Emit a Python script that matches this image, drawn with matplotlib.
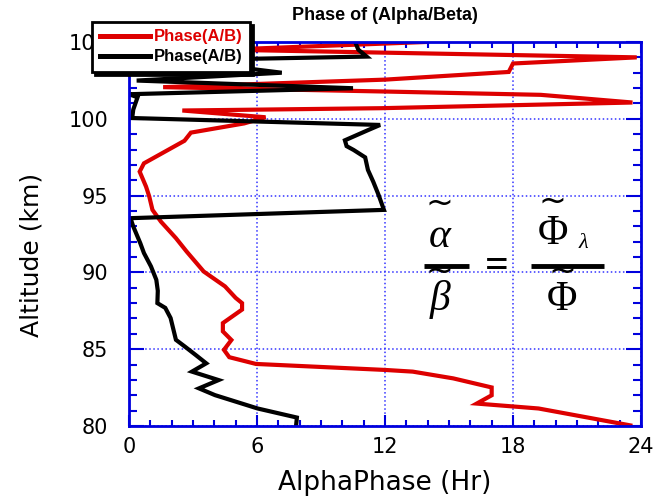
import matplotlib
matplotlib.use("Agg")
import matplotlib.pyplot as plt
from matplotlib.ticker import MultipleLocator

# red trace: Phase(A/B), hours vs altitude (km)
red_phase = [13.9, 4.5, 23.8, 18.0, 17.8, 12.0, 1.6, 12.2, 19.3, 23.6, 11.8, 2.5,
             6.4, 5.4, 2.9, 2.6, 0.7, 0.5, 0.8, 0.95, 1.1, 1.5, 2.2, 2.7, 3.5, 4.5,
             5.0, 5.3, 5.3, 4.4, 4.4, 4.8, 4.45, 4.7, 5.95, 12.0, 13.3, 15.2, 17.0,
             17.0, 16.3, 19.2, 23.5]
red_alt = [105.0, 104.5, 104.0, 103.6, 103.05, 102.55, 102.06, 101.77, 101.56, 101.06,
           100.69, 100.54, 100.1, 99.7, 99.1, 98.57, 97.1, 96.56, 95.58, 94.94, 94.07,
           93.3, 92.23, 91.36, 90.06, 89.09, 88.34, 88.0, 87.58, 86.7, 86.16, 85.6,
           84.96, 84.48, 84.04, 83.65, 83.54, 83.1, 82.51, 82.0, 81.46, 81.14, 80.04]

# black trace: Phase(A/B)
black_phase = [10.6, 10.75, 11.14, 2.4, 7.16, 0.36, 10.5, 0.0, 0.4, 0.2, 0.15, 11.77,
               11.2, 10.12, 10.2, 10.53, 11.07, 11.2, 11.45, 11.7, 11.95, 0.07, 0.2,
               0.53, 0.7, 1.03, 1.28, 1.35, 1.33, 1.7, 1.95, 2.2, 2.62, 3.12, 3.62,
               2.95, 4.2, 3.28, 4.03, 6.03, 7.87, 7.83]
black_alt = [105.0, 104.5, 104.05, 103.82, 103.0, 102.49, 101.99, 101.6, 101.4, 100.6,
             100.05, 99.6, 99.26, 98.6, 98.22, 97.97, 97.49, 96.67, 95.9, 95.04, 94.07,
             93.53, 92.99, 91.9, 91.26, 90.39, 89.52, 88.8, 88.0, 87.69, 87.03, 85.61,
             85.17, 84.63, 84.08, 83.54, 82.99, 82.45, 82.01, 81.14, 80.55, 80.0]

x_ticks = [0, 6, 12, 18, 24]
y_ticks = [80, 85, 90, 95, 100, 105]

blue = '#0000dd'
W, H = 658, 499

fig = plt.figure(figsize=(W / 100, H / 100), dpi=100)
ax = fig.add_axes([129 / W, 73 / H, 512 / W, 384 / H])

ax.plot(red_phase, red_alt, color='#dd0000', lw=3, label='Phase(A/B)', solid_joinstyle='miter')
ax.plot(black_phase, black_alt, color='black', lw=3, label='Phase(A/B)', solid_joinstyle='miter')

ax.set_xlim(0, 24)
ax.set_ylim(80, 105)
ax.set_xticks(x_ticks)
ax.set_yticks(y_ticks)
ax.xaxis.set_minor_locator(MultipleLocator(1))
ax.yaxis.set_minor_locator(MultipleLocator(1))
ax.tick_params(axis='x', which='major', direction='in', length=8, width=1.5, color=blue,
               top=True, bottom=True, labelsize=15, pad=8)
ax.tick_params(axis='x', which='minor', direction='in', length=4.5, width=1.5, color=blue,
               top=True, bottom=True)
ax.tick_params(axis='y', which='major', direction='in', length=11, width=1.5, color=blue,
               left=True, right=True, labelsize=15, pad=15)
ax.tick_params(axis='y', which='minor', direction='in', length=6, width=1.5, color=blue,
               left=True, right=True)
for sp in ax.spines.values():
    sp.set_color(blue)
    sp.set_linewidth(2)
ax.grid(True, which='major', color='#3333ff', linestyle=':', linewidth=1.1)

fig.text(385 / W, 1 - 16 / H, 'Phase of (Alpha/Beta)', ha='center', va='center',
         fontsize=13, fontweight='bold', family='Liberation Sans')
fig.text(385 / W, 1 - 483 / H, 'AlphaPhase (Hr)', ha='center', va='center', fontsize=19)
fig.text(32 / W, 1 - 255 / H, 'Altitude (km)', ha='center', va='center', fontsize=18,
         rotation=90)

leg = ax.legend(loc='upper left', bbox_to_anchor=(92 / W, 1 - 22 / H),
                bbox_transform=fig.transFigure, borderaxespad=0, fancybox=False,
                shadow={'color': 'black', 'alpha': 1}, labelcolor='linecolor',
                prop={'family': 'Liberation Sans', 'weight': 'bold', 'size': 12},
                handlelength=3.0, handletextpad=0.25, borderpad=0.45, labelspacing=0.3,
                framealpha=1)
leg.get_frame().set_edgecolor('black')
leg.get_frame().set_linewidth(2)
for hl in leg.get_lines():
    hl.set_linewidth(3.6)

# formula  alpha~/beta~ = Phi~_lambda/Phi~
serif = ['Liberation Serif', 'DejaVu Serif']
tilde = dict(transform=ax.transAxes, fontsize=24, family='DejaVu Sans', ha='center', va='center')
glyph = dict(transform=ax.transAxes, fontsize=30, family=serif, ha='center', va='center')
ax.text(0.607, 0.580, '~', **tilde)
ax.text(0.607, 0.492, 'α', style='italic', **glyph)
ax.text(0.607, 0.404, '~', **tilde)
ax.text(0.607, 0.330, 'β', style='italic', **glyph)
ax.text(0.719, 0.414, '=', fontweight='bold', **glyph)
ax.text(0.828, 0.585, '~', **tilde)
ax.text(0.828, 0.500, 'Φ', **glyph)
ax.text(0.888, 0.475, 'λ', transform=ax.transAxes, fontsize=16, family=serif, style='italic',
        ha='center', va='center')
ax.text(0.846, 0.404, '~', **tilde)
ax.text(0.846, 0.330, 'Φ', **glyph)
ax.plot([0.576, 0.664], [0.417, 0.417], transform=ax.transAxes, color='black', lw=3.5,
        solid_capstyle='butt', zorder=6)
ax.plot([0.785, 0.928], [0.417, 0.417], transform=ax.transAxes, color='black', lw=3.5,
        solid_capstyle='butt', zorder=6)

fig.savefig('out.png', dpi=100)
